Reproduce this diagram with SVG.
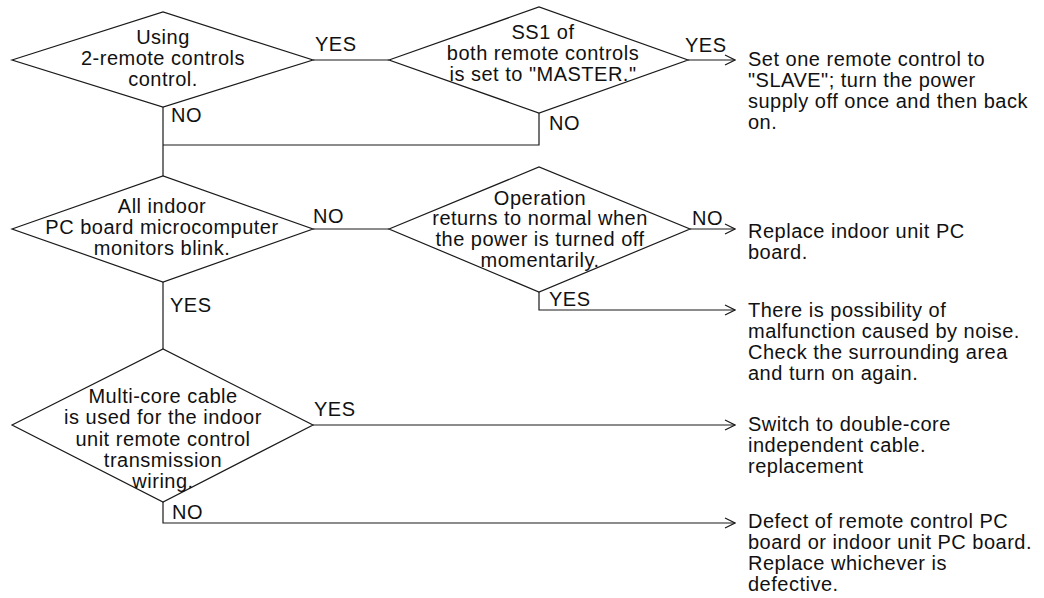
<svg xmlns="http://www.w3.org/2000/svg" width="1044" height="598" viewBox="0 0 1044 598">
<style>
.shape{fill:#fff;stroke:#1a1a1a;stroke-width:1.2}
.conn{fill:none;stroke:#1a1a1a;stroke-width:1.2}
text{font-family:"Liberation Sans",Arial,sans-serif;font-size:20px;fill:#111;letter-spacing:0.5px}
.c{text-anchor:middle}
</style>
<defs>
<marker id="arr" markerUnits="userSpaceOnUse" markerWidth="12" markerHeight="12" refX="11" refY="6" orient="auto">
<path d="M1,1 L11,6 L1,11" fill="none" stroke="#1a1a1a" stroke-width="1.2"/>
</marker>
</defs>
<g id="connectors">
<path class="conn" d="M313,60 H389"/>
<path class="conn" d="M688,60 H735" marker-end="url(#arr)"/>
<path class="conn" d="M163,107 V176"/>
<path class="conn" d="M539,113 V145 H163"/>
<path class="conn" d="M313,229 H389"/>
<path class="conn" d="M690,229 H735" marker-end="url(#arr)"/>
<path class="conn" d="M539,292 V310 H735" marker-end="url(#arr)"/>
<path class="conn" d="M163,282 V349"/>
<path class="conn" d="M313,425 H735" marker-end="url(#arr)"/>
<path class="conn" d="M163,502 V523 H735" marker-end="url(#arr)"/>
<text x="315" y="51">YES</text>
<text x="685" y="52">YES</text>
<text x="171" y="122">NO</text>
<text x="549" y="130">NO</text>
<text x="313" y="223">NO</text>
<text x="692" y="225">NO</text>
<text x="549" y="306">YES</text>
<text x="170" y="312">YES</text>
<text x="314" y="416">YES</text>
<text x="172" y="519">NO</text>
</g>
<g id="d1">
<polygon class="shape" points="12,60 163,12 313,60 163,107"/>
<text class="c" x="163" y="44">Using</text>
<text class="c" x="163" y="65">2-remote controls</text>
<text class="c" x="163" y="86">control.</text>
</g>
<g id="d2">
<polygon class="shape" points="389,60 539,7 688,60 539,113"/>
<text class="c" x="543" y="39">SS1 of</text>
<text class="c" x="543" y="60">both remote controls</text>
<text class="c" x="543" y="81">is set to "MASTER."</text>
</g>
<g id="r1">
<text x="748" y="66">Set one remote control to</text>
<text x="748" y="87">"SLAVE"; turn the power</text>
<text x="748" y="108">supply off once and then back</text>
<text x="748" y="129">on.</text>
</g>
<g id="d3">
<polygon class="shape" points="12,229 163,176 313,229 163,282"/>
<text class="c" x="162" y="213">All indoor</text>
<text class="c" x="162" y="234">PC board microcomputer</text>
<text class="c" x="162" y="255">monitors blink.</text>
</g>
<g id="d4">
<polygon class="shape" points="389,229 539,167 690,229 539,292"/>
<text class="c" x="540" y="205">Operation</text>
<text class="c" x="540" y="225">returns to normal when</text>
<text class="c" x="540" y="246">the power is turned off</text>
<text class="c" x="540" y="267">momentarily.</text>
</g>
<g id="r2">
<text x="748" y="238">Replace indoor unit PC</text>
<text x="748" y="259">board.</text>
</g>
<g id="r3">
<text x="748" y="317">There is possibility of</text>
<text x="748" y="338">malfunction caused by noise.</text>
<text x="748" y="359">Check the surrounding area</text>
<text x="748" y="380">and turn on again.</text>
</g>
<g id="d5">
<polygon class="shape" points="12,425 163,349 313,425 163,502"/>
<text class="c" x="163" y="403">Multi-core cable</text>
<text class="c" x="163" y="424">is used for the indoor</text>
<text class="c" x="163" y="446">unit remote control</text>
<text class="c" x="163" y="467">transmission</text>
<text class="c" x="163" y="488">wiring.</text>
</g>
<g id="r4">
<text x="748" y="431">Switch to double-core</text>
<text x="748" y="452">independent cable.</text>
<text x="748" y="473">replacement</text>
</g>
<g id="r5">
<text x="748" y="528">Defect of remote control PC</text>
<text x="748" y="549">board or indoor unit PC board.</text>
<text x="748" y="570">Replace whichever is</text>
<text x="748" y="591">defective.</text>
</g>
</svg>
